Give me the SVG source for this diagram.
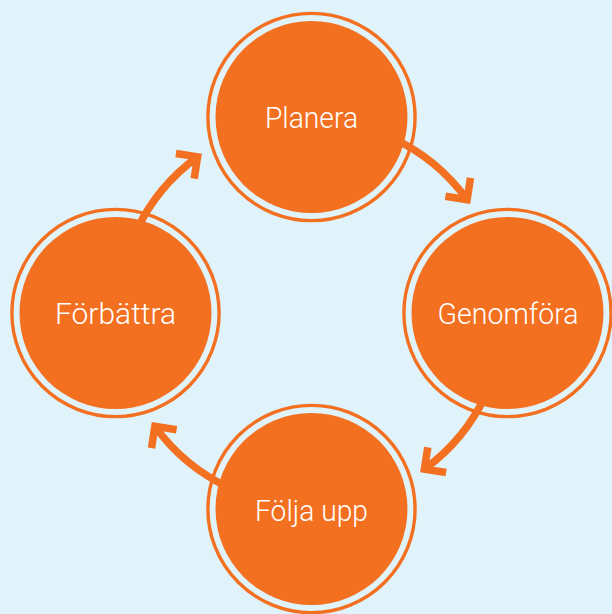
<svg xmlns="http://www.w3.org/2000/svg" xmlns:xlink="http://www.w3.org/1999/xlink" width="612" height="614" viewBox="0 0 612 614">
  <style>
    .ring { fill: none; stroke: #F37021; stroke-width: 3.4; }
    .core { fill: #F37021; }
    .label { fill: #FFFFFF; font-family: Roboto, "Liberation Sans", sans-serif; font-weight: 300; font-size: 29px; text-anchor: middle; }
    .arc { fill: none; stroke: #F37021; stroke-width: 7.5; stroke-linecap: butt; stroke-linejoin: miter; stroke-miterlimit: 10; }
  </style>
  <defs>
    <g id="arrow">
      <path class="arc" d="M 392.6 138.1 A 193 193 0 0 1 467.1 199.6"/>
      <path class="arc" d="M 470.5 177.9 L 467.1 199.6 L 445.4 196.2"/>
    </g>
  </defs>
  <rect x="0" y="0" width="612" height="614" fill="#E1F3FA"/>
  <g id="connectors">
    <use xlink:href="#arrow"/>
    <use xlink:href="#arrow" transform="rotate(90 311 313)"/>
    <use xlink:href="#arrow" transform="rotate(180 311 313)"/>
    <use xlink:href="#arrow" transform="rotate(270 311 313)"/>
  </g>
  <g id="planera">
    <circle class="ring" cx="311.5" cy="117" r="103.6"/>
    <circle class="core" cx="311.5" cy="117" r="96"/>
    <text class="label" x="311.5" y="128" textLength="93" lengthAdjust="spacingAndGlyphs">Planera</text>
  </g>
  <g id="genomfora">
    <circle class="ring" cx="507.5" cy="313" r="103.6"/>
    <circle class="core" cx="507.5" cy="313" r="96"/>
    <text class="label" x="508" y="324" textLength="141" lengthAdjust="spacingAndGlyphs">Genomföra</text>
  </g>
  <g id="folja-upp">
    <circle class="ring" cx="311.5" cy="509" r="103.6"/>
    <circle class="core" cx="311.5" cy="509" r="96"/>
    <text class="label" x="311.5" y="521" textLength="113" lengthAdjust="spacingAndGlyphs">Följa upp</text>
  </g>
  <g id="forbattra">
    <circle class="ring" cx="115.5" cy="313" r="103.6"/>
    <circle class="core" cx="115.5" cy="313" r="96"/>
    <text class="label" x="115.5" y="324" textLength="121" lengthAdjust="spacingAndGlyphs">Förbättra</text>
  </g>
</svg>
